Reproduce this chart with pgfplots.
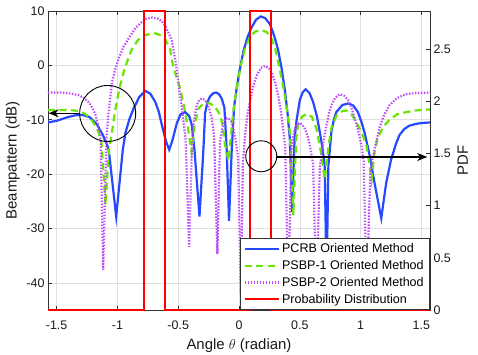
\documentclass[border=0pt]{standalone}
\usepackage{fontspec}
\setmainfont{Liberation Sans}
\usepackage{pgfplots}
\pgfplotsset{compat=1.18}
\usetikzlibrary{arrows.meta}
\definecolor{cB}{RGB}{38,72,255}
\definecolor{cG}{RGB}{102,230,0}
\definecolor{cP}{RGB}{190,70,255}
\definecolor{cR}{RGB}{255,0,0}
\pgfplotstableread{
x y
-1.5708 -10.5
-1.50 -10.2
-1.42 -9.6
-1.35 -9.2
-1.29 -9.1
-1.23 -9.5
-1.17 -10.8
-1.12 -12.8
-1.085 -14.6
-1.071 -15.6
-1.01 -27.8
-0.956 -15.6
-0.934 -12.4
-0.90 -9.8
-0.866 -7.9
-0.82 -5.8
-0.77 -4.7
-0.73 -5.2
-0.689 -6.7
-0.66 -8.5
-0.634 -11.0
-0.60 -14.0
-0.574 -15.5
-0.55 -14.0
-0.511 -10.6
-0.48 -9.0
-0.443 -8.6
-0.41 -9.3
-0.388 -11.0
-0.366 -15.6
-0.325 -27.8
-0.293 -15.6
-0.279 -8.8
-0.26 -6.8
-0.238 -5.7
-0.21 -5.1
-0.188 -5.0
-0.165 -5.3
-0.142 -6.1
-0.12 -7.8
-0.101 -15.6
-0.082 -28.6
-0.06 -15.6
-0.04 -7.5
-0.019 -4.2
0.0 -1.5
0.035 2.5
0.07 5.2
0.104 7.0
0.14 8.4
0.178 9.0
0.215 8.7
0.254 7.6
0.29 5.4
0.322 2.8
0.35 -0.5
0.377 -4.5
0.40 -9.0
0.418 -13.5
0.437 -27.0
0.457 -13.5
0.473 -10.2
0.50 -6.4
0.525 -4.9
0.548 -4.4
0.58 -5.1
0.609 -6.7
0.64 -9.3
0.664 -12.2
0.685 -15.0
0.705 -18.5
0.72 -40
0.735 -18.5
0.76 -12.2
0.78 -10.0
0.80 -8.6
0.85 -7.3
0.90 -7.0
0.94 -7.4
0.978 -8.6
1.01 -10.6
1.033 -12.4
1.074 -16.5
1.115 -21.7
1.17 -28.1
1.21 -21.7
1.25 -17.4
1.29 -14.5
1.32 -12.8
1.36 -11.7
1.40 -11.1
1.45 -10.8
1.50 -10.6
1.5708 -10.5
}\pcrb
\pgfplotstableread{
x y
-1.5708 -8.2
-1.45 -8.2
-1.35 -8.3
-1.29 -8.6
-1.25 -9.2
-1.21 -10.1
-1.18 -11.2
-1.153 -12.4
-1.13 -14.5
-1.098 -25.7
-1.07 -15.6
-1.044 -12.2
-1.02 -8.5
-1.0 -6.1
-0.975 -3.5
-0.948 -1.2
-0.915 1.0
-0.88 3.0
-0.83 4.7
-0.77 5.6
-0.69 5.9
-0.65 5.6
-0.607 4.8
-0.566 3.0
-0.552 0.9
-0.52 -1.8
-0.484 -4.2
-0.45 -7.8
-0.415 -12.2
-0.39 -16.0
-0.365 -11.0
-0.333 -7.9
-0.29 -7.0
-0.25 -6.9
-0.20 -7.5
-0.156 -9.1
-0.135 -11.0
-0.115 -14.6
-0.085 -17.5
-0.06 -11.5
-0.047 -8.5
-0.019 -4.2
0.015 0.0
0.049 3.1
0.09 5.2
0.131 6.2
0.186 6.5
0.23 6.1
0.268 4.9
0.30 2.8
0.322 0.7
0.35 -2.3
0.377 -5.5
0.40 -9.0
0.418 -12.2
0.447 -27.5
0.47 -13.5
0.486 -11.0
0.52 -9.4
0.56 -8.9
0.60 -9.5
0.635 -11.5
0.67 -15.5
0.705 -21.0
0.735 -15.0
0.76 -11.5
0.80 -9.3
0.85 -8.4
0.88 -8.3
0.92 -8.8
0.965 -10.4
1.01 -12.5
1.047 -14.6
1.074 -18.3
1.09 -21.0
1.115 -16.0
1.14 -13.4
1.19 -11.2
1.238 -10.0
1.30 -9.0
1.375 -8.6
1.45 -8.3
1.5708 -8.1
}\psbpa
\pgfplotstableread{
x y
-1.5708 -5.0
-1.45 -5.0
-1.38 -5.2
-1.317 -5.5
-1.275 -6.0
-1.235 -6.8
-1.205 -7.8
-1.18 -9.1
-1.153 -11.5
-1.139 -13.0
-1.117 -37.6
-1.09 -13.0
-1.071 -8.5
-1.044 -3.0
-1.015 -0.5
-0.989 1.3
-0.95 3.4
-0.907 5.0
-0.85 6.9
-0.80 8.0
-0.76 8.6
-0.715 8.8
-0.67 8.6
-0.634 8.1
-0.607 7.3
-0.58 6.0
-0.552 4.5
-0.52 0.5
-0.497 -3.5
-0.475 -7.0
-0.456 -10.4
-0.44 -13.5
-0.41 -33.4
-0.385 -13.5
-0.374 -10.6
-0.347 -7.3
-0.325 -6.3
-0.306 -6.1
-0.285 -6.3
-0.265 -6.9
-0.245 -8.0
-0.224 -9.8
-0.205 -13.0
-0.178 -34.7
-0.156 -14.0
-0.138 -11.6
-0.12 -10.2
-0.10 -9.7
-0.088 -9.7
-0.065 -10.3
-0.047 -11.6
-0.025 -14.0
-0.008 -17.0
0.015 -42
0.032 -18.0
0.052 -12.5
0.07 -9.0
0.09 -6.7
0.115 -4.0
0.145 -1.9
0.18 -0.5
0.213 -0.1
0.245 -0.5
0.268 -1.3
0.295 -3.0
0.322 -5.5
0.345 -8.5
0.363 -11.6
0.38 -15.0
0.405 -42
0.432 -14.6
0.459 -11.6
0.48 -10.8
0.50 -10.6
0.52 -10.9
0.541 -11.6
0.565 -13.0
0.582 -14.6
0.609 -18.0
0.636 -42
0.665 -18.5
0.691 -14.5
0.719 -11.0
0.74 -8.8
0.76 -7.3
0.79 -6.0
0.83 -5.3
0.865 -5.6
0.896 -6.4
0.925 -7.8
0.951 -9.7
0.98 -12.0
1.006 -14.6
1.025 -17.5
1.05 -42
1.08 -20.0
1.10 -17.0
1.128 -14.0
1.156 -11.5
1.19 -9.3
1.238 -7.3
1.30 -6.0
1.375 -5.3
1.45 -5.1
1.5708 -5.0
}\psbpb
\pgfplotstableread{
x y
-1.5708 0
-0.7854 0
-0.7854 2.8648
-0.6109 2.8648
-0.6109 0
0.0873 0
0.0873 2.8648
0.2618 2.8648
0.2618 0
1.5708 0
}\pdf
\begin{document}
\begin{tikzpicture}
\pgfplotsset{
  common/.style={
    scale only axis, width=382bp, height=299bp,
    xmin=-1.5708, xmax=1.5708,
    tick align=inside, major tick length=4bp,
    axis line style={draw=black!80, line width=0.6bp},
    every tick/.style={draw=black!80, line width=0.6bp},
    tick label style={font=\fontsize{12.5}{14}\selectfont, text=black!90},
    label style={font=\fontsize{15}{17}\selectfont, text=black!90},
  }
}
\begin{axis}[common, name=main,
  ymin=-45, ymax=10,
  xtick={-1.5,-1,-0.5,0,0.5,1,1.5},
  xticklabels={-1.5,-1,-0.5,0,0.5,1,1.5},
  ytick={-40,-30,-20,-10,0,10},
  yticklabels={-40,-30,-20,-10,0,10},
  ytick pos=left, xtick pos=both,
  grid=major, major grid style={draw=black!12, line width=0.5bp},
  xticklabel style={yshift=-7bp},
  xlabel={Angle $\theta$ (radian)}, ylabel={Beampattern (dB)},
  xlabel style={yshift=-2bp},
]
\addplot[cB, line width=2.2bp] table {\pcrb};
\addplot[cG, line width=2.2bp, dash pattern=on 7bp off 4.5bp] table {\psbpa};
\addplot[cP, line width=2.2bp, dash pattern=on 1.4bp off 1.6bp] table {\psbpb};
\end{axis}
\begin{axis}[common,
  ymin=0, ymax=2.8648,
  axis x line=none, axis y line*=right,
  ytick={0,0.5,1,1.5,2,2.5},
  yticklabels={0,0.5,1,1.5,2,2.5},
  ylabel={PDF},
  clip=false,
  legend cell align=left,
  legend image code/.code={\draw[#1] (0bp,0bp) -- (34bp,0bp);},
  legend style={at={(1,0)}, anchor=south east, font=\fontsize{12.6}{15}\selectfont,
    draw=black!80, fill=white, line width=0.6bp, inner xsep=4bp, inner ysep=3bp,
    row sep=2.3bp},
]
\addlegendimage{cB, line width=2.2bp}
\addlegendentry{PCRB Oriented Method}
\addlegendimage{cG, line width=2.2bp, dash pattern=on 7bp off 4.5bp}
\addlegendentry{PSBP-1 Oriented Method}
\addlegendimage{cP, line width=2.2bp, dash pattern=on 1.4bp off 1.6bp}
\addlegendentry{PSBP-2 Oriented Method}
\addplot[cR, line width=2bp] table {\pdf};
\addlegendentry{Probability Distribution}
\draw[black, line width=0.9bp] (axis cs:-1.080,1.883) circle[radius=28bp];
\draw[black, line width=1.1bp, -{Stealth[length=10bp, width=8bp, inset=3bp]}] (axis cs:-1.3076,1.885) -- (axis cs:-1.566,1.885);
\draw[black, line width=0.9bp] (axis cs:0.183,1.473) circle[radius=15.5bp];
\draw[black, line width=1.1bp, -{Stealth[length=10bp, width=8bp, inset=3bp]}] (axis cs:0.311,1.466) -- (axis cs:1.548,1.466);
\end{axis}
\pgfresetboundingbox
\path (main.south west) ++(-48bp,-45bp) rectangle ++(478bp,355bp);
\end{tikzpicture}
\end{document}
